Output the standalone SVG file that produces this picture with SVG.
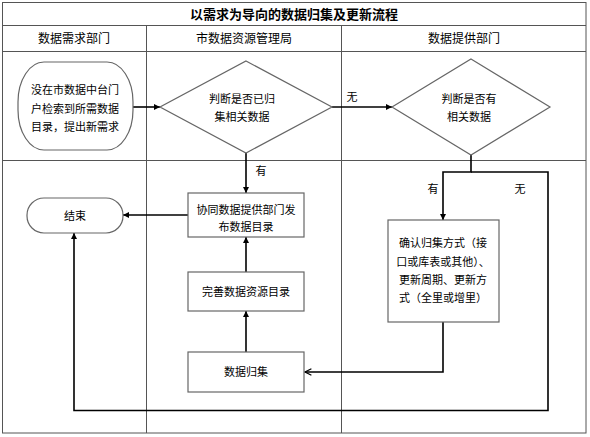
<svg xmlns="http://www.w3.org/2000/svg" width="590" height="437" viewBox="0 0 590 437">
<defs>
<style>
.grid{fill:none;stroke:#555;stroke-width:1}
.box{fill:#fff;stroke:#666;stroke-width:1.2}
.c{fill:none;stroke:#000;stroke-width:1.6}
.t{font-family:"Noto Sans CJK SC",sans-serif;font-size:11px;fill:#000;text-anchor:middle}
.h{font-family:"Noto Sans CJK SC",sans-serif;font-size:12px;fill:#000;text-anchor:middle}
.ti{font-family:"Noto Sans CJK SC",sans-serif;font-size:13px;font-weight:bold;fill:#000;text-anchor:middle}
</style>
<marker id="af" viewBox="0 0 10 10" refX="10" refY="5" markerWidth="4" markerHeight="4" orient="auto" markerUnits="strokeWidth">
<path d="M0,0 L10,5 L0,10 z" fill="#000"/>
</marker>
<marker id="ao" viewBox="0 0 10 10" refX="9" refY="5" markerWidth="5" markerHeight="5" orient="auto" markerUnits="strokeWidth" overflow="visible">
<path d="M1,1 L9,5 L1,9" fill="none" stroke="#000" stroke-width="1.6"/>
</marker>
</defs>
<rect width="590" height="437" fill="#fff"/>
<g id="table">
<rect class="grid" x="2.5" y="2.5" width="583.5" height="430.5"/>
<line class="grid" x1="2.5" y1="25.5" x2="586" y2="25.5"/>
<line class="grid" x1="2.5" y1="51.5" x2="586" y2="51.5"/>
<line class="grid" x1="2.5" y1="160.5" x2="586" y2="160.5"/>
<line class="grid" x1="146.5" y1="25.5" x2="146.5" y2="433"/>
<line class="grid" x1="341.5" y1="25.5" x2="341.5" y2="433"/>
<text class="ti" x="294" y="19">以需求为导向的数据归集及更新流程</text>
<text class="h" x="74" y="43">数据需求部门</text>
<text class="h" x="244" y="43">市数据资源管理局</text>
<text class="h" x="464" y="43">数据提供部门</text>
</g>
<g id="connectors">
<line class="c" x1="133" y1="107" x2="160" y2="107" marker-end="url(#af)"/>
<line class="c" x1="332" y1="107" x2="392" y2="107" marker-end="url(#af)"/>
<text class="t" x="352" y="101" font-size="12">无</text>
<line class="c" x1="246" y1="153" x2="246" y2="193" marker-end="url(#af)"/>
<text class="t" x="261" y="175" font-size="12">有</text>
<line class="c" x1="188" y1="215" x2="123" y2="215" marker-end="url(#af)"/>
<line class="c" x1="246" y1="272" x2="246" y2="237" marker-end="url(#af)"/>
<line class="c" x1="246" y1="352" x2="246" y2="311" marker-end="url(#af)"/>
<polyline class="c" points="471,153 471,172 443,172 443,220" marker-end="url(#af)"/>
<polyline class="c" points="471,172 548,172 548,410.5 74,410.5 74,233" marker-end="url(#af)"/>
<text class="t" x="433" y="193" font-size="12">有</text>
<text class="t" x="520" y="193" font-size="12">无</text>
<polyline class="c" points="443,322 443,372 305,372" marker-end="url(#ao)"/>
</g>
<g id="start">
<rect class="box" x="18" y="62" width="115" height="88" rx="26" ry="40"/>
<text class="t" x="75" y="94">没在市数据中台门</text>
<text class="t" x="75" y="113">户检索到所需数据</text>
<text class="t" x="75" y="131">目录，提出新需求</text>
</g>
<g id="decision1">
<polygon class="box" points="246,61 332,107 246,153 160,107"/>
<text class="t" x="242" y="103">判断是否已归</text>
<text class="t" x="242" y="121">集相关数据</text>
</g>
<g id="decision2">
<polygon class="box" points="471,59 550,107 471,155 392,107"/>
<text class="t" x="469" y="103">判断是否有</text>
<text class="t" x="469" y="121">相关数据</text>
</g>
<g id="publish">
<rect class="box" x="188" y="193" width="116" height="44"/>
<text class="t" x="246" y="214">协同数据提供部门发</text>
<text class="t" x="246" y="231">布数据目录</text>
</g>
<g id="end">
<rect class="box" x="27" y="198" width="96" height="35" rx="17" ry="17"/>
<text class="t" x="75" y="220">结束</text>
</g>
<g id="improve">
<rect class="box" x="188" y="272" width="116" height="39"/>
<text class="t" x="246" y="296">完善数据资源目录</text>
</g>
<g id="collect">
<rect class="box" x="188" y="352" width="116" height="40"/>
<text class="t" x="246" y="376">数据归集</text>
</g>
<g id="confirm">
<rect class="box" x="388" y="220" width="111" height="102"/>
<text class="t" x="443" y="247">确认归集方式（接</text>
<text class="t" x="443" y="266">口或库表或其他）、</text>
<text class="t" x="443" y="284">更新周期、更新方</text>
<text class="t" x="443" y="302">式（全里或增里）</text>
</g>
</svg>
